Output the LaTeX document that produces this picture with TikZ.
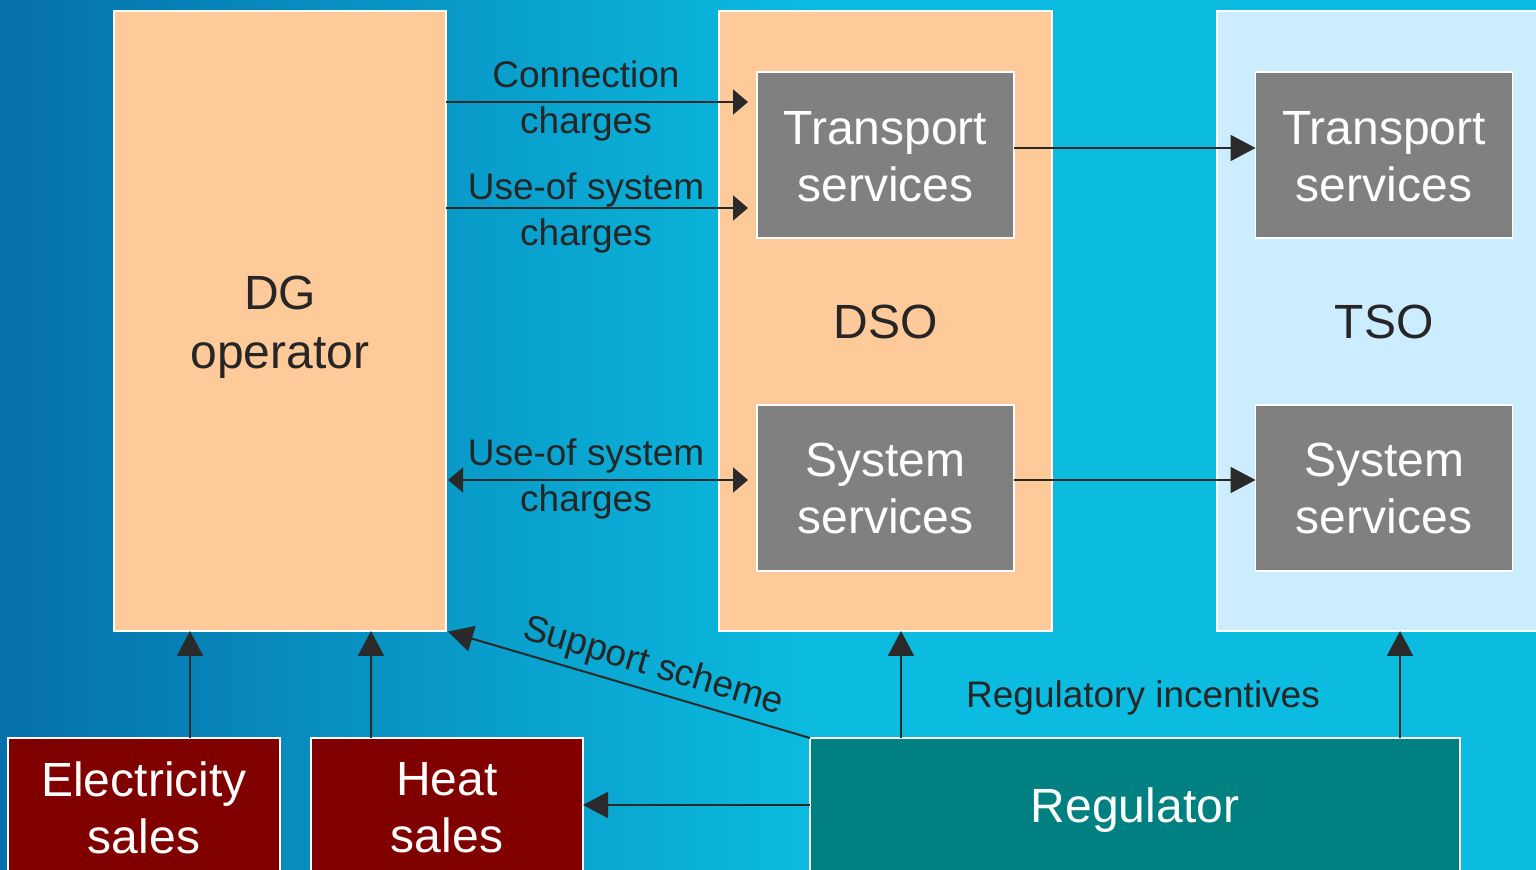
\documentclass[tikz,border=0pt]{standalone}
\usepackage{fontspec}
\setmainfont{Liberation Sans}
\usetikzlibrary{arrows.meta,calc}

\definecolor{bgdark}{HTML}{0670AB}
\definecolor{bglight}{HTML}{0BBCE0}
\definecolor{peach}{HTML}{FFCA99}
\definecolor{paleblue}{HTML}{CCECFF}
\definecolor{svcgray}{HTML}{808080}
\definecolor{salesred}{HTML}{800000}
\definecolor{regteal}{HTML}{008080}
\definecolor{ink}{HTML}{262626}
\definecolor{arrowink}{HTML}{2A2A2A}

\tikzset{
  panel/.style={draw=white, line width=0.8pt, inner sep=0pt, outer sep=0pt,
    minimum height=310pt, text=ink, font=\fontsize{24}{29.5}\selectfont, align=center},
  service/.style={draw=white, line width=0.8pt, fill=svcgray, inner sep=0pt, outer sep=0pt,
    minimum width=128.5pt, minimum height=83pt, text=white,
    font=\fontsize{24}{28.5}\selectfont, align=center},
  sales/.style={draw=white, line width=0.8pt, fill=salesred, inner sep=0pt, outer sep=0pt,
    minimum width=136pt, minimum height=69.5pt, text=white,
    font=\fontsize{24}{28.5}\selectfont, align=center},
  flowlabel/.style={text=ink, font=\fontsize{18.5}{23}\selectfont, align=center, inner sep=0pt},
  bigarrow/.style={draw=arrowink, line width=1pt, -{Triangle[length=12.5pt, width=13pt]}},
  chargearrow/.style={draw=arrowink, line width=1pt, -{Triangle[length=7.5pt, width=12.5pt]}},
}

\begin{document}
\begin{tikzpicture}[x=0.5pt, y=-0.5pt]
  \useasboundingbox (0,0) rectangle (1536,870);
  \clip (0,0) rectangle (1536,870);

  % background: blue gradient fading into flat cyan on the right
  \fill[bglight] (0,0) rectangle (1536,870);
  \shade[left color=bgdark, right color=bglight] (0,0) rectangle (820,870);

  % main actor panels
  \node[panel, fill=peach, minimum width=166pt] (dg) at (280,321) {};
  \node[panel, fill=peach, minimum width=166.5pt] (dso) at (885.5,321) {};
  \node[panel, fill=paleblue, minimum width=167pt] (tso) at (1384,321) {};
  \node[text=ink, font=\fontsize{24}{29.5}\selectfont, align=center] (dglabel) at (280,327) {DG\\operator};
  \node[text=ink, font=\fontsize{24}{28.5}\selectfont] (dsolabel) at (885.5,322) {DSO};
  \node[text=ink, font=\fontsize{24}{28.5}\selectfont] (tsolabel) at (1384,322) {TSO};

  % service boxes
  \node[service] (dsoT) at (885.5,155) {};
  \node[service] (dsoS) at (885.5,488) {System\\services};
  \node[service] (tsoT) at (1384,155) {};
  \node[service] (tsoS) at (1384,488) {System\\services};
  \node[text=white, font=\fontsize{24}{28.5}\selectfont, align=center] (dsoTl) at (885.5,157) {Transport\\services};
  \node[text=white, font=\fontsize{24}{28.5}\selectfont, align=center] (tsoTl) at (1384,157) {Transport\\services};

  % bottom row
  \node[sales] (elec) at (144,807.5) {Electricity\\sales};
  \node[sales] (heat) at (447,807.5) {Heat\\sales};
  \node[draw=white, line width=0.8pt, fill=regteal, inner sep=0pt, outer sep=0pt,
        minimum width=325pt, minimum height=68pt] (reg) at (1135,806) {};
  \node[text=white, font=\fontsize{24}{28.5}\selectfont] (regl) at (1135,810) {Regulator};

  % charges from the DG operator to the DSO
  \draw[chargearrow, shorten >=4.5pt] (dg.east |- 0,102) -- (dsoT.west |- 0,102);
  \draw[chargearrow, shorten >=4.5pt] (dg.east |- 0,208) -- (dsoT.west |- 0,208);
  \draw[chargearrow, {Triangle[length=7.5pt, width=12.5pt]}-{Triangle[length=7.5pt, width=12.5pt]},
        shorten <=1pt, shorten >=4.5pt] (dg.east |- 0,480) -- (dsoS.west |- 0,480);
  \node[flowlabel] (lconn) at (586,100.5) {Connection\\charges};
  \node[flowlabel] (luos1) at (586,212.5) {Use-of system\\charges};
  \node[flowlabel] (luos2) at (586,478.5) {Use-of system\\charges};

  % DSO services feeding the TSO services
  \draw[bigarrow] (dsoT.east |- 0,148) -- (tsoT.west |- 0,148);
  \draw[bigarrow] (dsoS.east |- 0,480) -- (tsoS.west |- 0,480);

  % revenue streams of the DG operator
  \draw[bigarrow] (elec.north -| 190,0) -- (dg.south -| 190,0);
  \draw[bigarrow] (heat.north -| 371,0) -- (dg.south -| 371,0);

  % regulator influence
  \draw[bigarrow] (reg.west |- 0,805) -- (heat.east |- 0,805);
  \draw[bigarrow, shorten >=1pt] (reg.north west) -- (dg.south east)
    node[pos=0.45, sloped, yshift=12pt, text=ink, font=\fontsize{18.5}{23}\selectfont, inner sep=0pt] (lsup) {Support scheme};
  \draw[bigarrow] (reg.north -| 901,0) -- (dso.south -| 901,0);
  \draw[bigarrow] (reg.north -| 1400,0) -- (tso.south -| 1400,0);
  \node[flowlabel] (linc) at (1143,698) {Regulatory incentives};
\end{tikzpicture}
\end{document}
